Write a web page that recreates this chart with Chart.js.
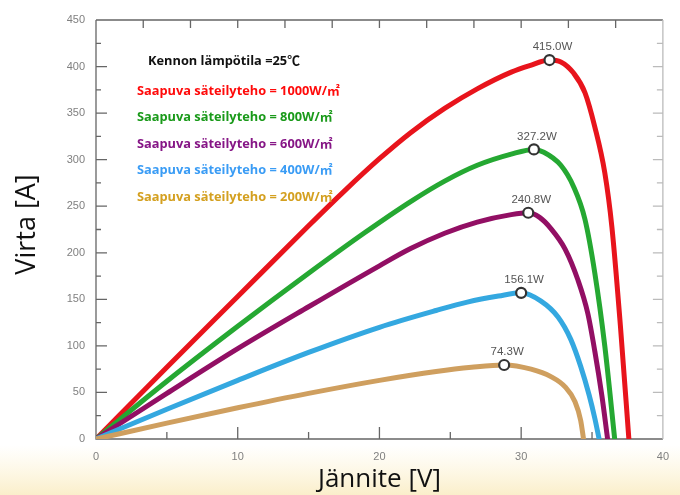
<!DOCTYPE html>
<html><head><meta charset="utf-8">
<script src="https://cdn.jsdelivr.net/npm/chart.js@4.4.1/dist/chart.umd.min.js"></script>
<style>html,body{margin:0;padding:0;background:#fff;}#wrap{width:680px;height:495px;position:relative;}</style>
</head><body><div id="wrap"><canvas id="c"></canvas></div>
<script>
// ---- data ----
const headerText = 'Kennon lämpötila =25℃';
const seriesNames = ['Saapuva säteilyteho = 1000W/㎡','Saapuva säteilyteho = 800W/㎡','Saapuva säteilyteho = 600W/㎡','Saapuva säteilyteho = 400W/㎡','Saapuva säteilyteho = 200W/㎡'];
const v1000 = [0,5,10,15,17.5,20,22.2,24.6,26.9,29.3,30.6,32.0,32.8,33.7,34.5,35.2,35.9,36.4,37.0,37.6];
const p1000 = [0,77,153,229,266,301,329,355,376,394,401,407,405,393,372,335,286,228,122,0];
const v800 = [0,5,10,15,19,22.2,24.6,26.9,29.3,30.9,31.6,32.8,33.7,34.5,35.2,35.9,36.6];
const p800 = [0,62,121,178,222,255,277,294,306,311,308,294,271,236,178,100,0];
const v600 = [0,5,10,15,20,22.2,24.6,26.9,29.3,30.5,31.3,32.1,33.1,34.0,34.7,35.2,35.7,36.1];
const p600 = [0,49,97,142,186,204.5,221,233,241,243,238,226,204,171,135,94,46,0];
const v400 = [0,5,10,15,20,24,26.2,28.4,30.0,31.4,32.6,33.5,34.2,34.8,35.2,35.5];
const p400 = [0,32,63,93,120,138,147,153.5,157,148,131,107,78,47,22,0];
const v200 = [0,5,10,15,20,24,26.5,28.8,30.7,32.1,33.1,33.8,34.2,34.4];
const p200 = [0,17,33.5,49,63,72.5,77,79.5,75,67,56,40,20,0];
const peakV = [32.0,30.9,30.5,30.0,28.8];
const peakP = [407,311,243,157,79.5];
const peakLabels = ['415.0W','327.2W','240.8W','156.1W','74.3W'];
const xTickValues = [0,10,20,30,40];
const yTickValues = [0,50,100,150,200,250,300,350,400,450];
const xTitle = 'Jännite [V]';
const yTitle = 'Virta [A]';

// ---- styles ----
const lineColors = ['#e8141c','#25a832','#920f64','#34a8e0','#cf9f5f'];
const textColors = ['#ff0a0a','#1a9a1a','#861686','#3a9cf5','#d4a020'];

const curves = [[v1000,p1000],[v800,p800],[v600,p600],[v400,p400],[v200,p200]];
const datasets = curves.map((c,i)=>({
  type:'line', label:seriesNames[i],
  data:c[0].map((v,k)=>({x:v,y:c[1][k]})),
  borderColor:lineColors[i], borderWidth:5, pointRadius:0,
  cubicInterpolationMode:'monotone', fill:false, borderCapStyle:'round', borderJoinStyle:'round',
  order:10-i
}));
peakV.forEach((v,i)=>datasets.push({
  type:'scatter', label:'peak'+i, data:[{x:v,y:peakP[i]}],
  pointRadius:5, pointBackgroundColor:'#ffffff', pointBorderColor:'#333333', pointBorderWidth:2.2,
  order:0
}));

const bgPlugin = {
  id:'bg',
  beforeDraw(chart){
    const {ctx,width,height} = chart;
    ctx.save();
    ctx.fillStyle='#ffffff'; ctx.fillRect(0,0,width,height);
    const g = ctx.createLinearGradient(0,height-50,0,height);
    g.addColorStop(0,'rgba(250,232,170,0)');
    g.addColorStop(1,'rgba(246,222,150,0.5)');
    ctx.fillStyle=g; ctx.fillRect(0,height-50,width,50);
    ctx.restore();
  }
};

const boxPlugin = {
  id:'box',
  beforeDatasetsDraw(chart){
    const {ctx, chartArea:a, scales:{x,y}} = chart;
    ctx.save();
    ctx.lineWidth=1.3;
    ctx.strokeStyle='#666';
    ctx.beginPath();
    ctx.moveTo(a.left,a.top); ctx.lineTo(a.left,a.bottom); ctx.lineTo(a.right,a.bottom);
    ctx.moveTo(a.left,a.top); ctx.lineTo(a.right,a.top);
    for(let v=25; v<y.max; v+=25){
      const py=y.getPixelForValue(v); const len=(v%50===0)?11:5;
      ctx.moveTo(a.left,py); ctx.lineTo(a.left+len,py);
    }
    for(let v=5; v<x.max; v+=5){
      const px=x.getPixelForValue(v); const len=(v%10===0)?12:7;
      ctx.moveTo(px,a.bottom); ctx.lineTo(px,a.bottom-len);
    }
    for(let k=1; k*10/3<x.max-0.1; k++){
      const px=x.getPixelForValue(k*10/3);
      ctx.moveTo(px,a.top); ctx.lineTo(px,a.top+8);
    }
    ctx.stroke();
    ctx.strokeStyle='#bbbbbb';
    ctx.beginPath();
    ctx.moveTo(a.right,a.top); ctx.lineTo(a.right,a.bottom);
    for(let v=25; v<y.max; v+=25){
      const py=y.getPixelForValue(v); const len=(v%50===0)?10:6;
      ctx.moveTo(a.right,py); ctx.lineTo(a.right-len,py);
    }
    ctx.stroke();
    ctx.restore();
  }
};

const textPlugin = {
  id:'texts',
  afterDatasetsDraw(chart){
    const {ctx, chartArea:a} = chart;
    ctx.save();
    ctx.font = "11.5px 'Liberation Sans', Arial, sans-serif";
    ctx.fillStyle='#555555'; ctx.textAlign='center'; ctx.textBaseline='middle';
    peakLabels.forEach((t,i)=>{
      const p = chart.getDatasetMeta(curves.length+i).data[0];
      ctx.fillText(t,p.x+3,p.y-13);
    });
    ctx.textAlign='left';
    ctx.font = "bold 12.8px 'Open Sans', 'Noto Sans CJK SC', sans-serif";
    ctx.fillStyle='#111111';
    ctx.fillText(headerText, a.left+52, a.top+41);
    seriesNames.forEach((t,i)=>{
      ctx.fillStyle=textColors[i];
      ctx.fillText(t, a.left+41, a.top+71+i*26.6);
    });
    ctx.font = "27px 'Open Sans', sans-serif";
    ctx.fillStyle='#111111'; ctx.textAlign='center'; ctx.textBaseline='middle';
    ctx.translate(27,(a.top+a.bottom)/2-5);
    ctx.rotate(-Math.PI/2);
    ctx.fillText(yTitle,0,0);
    ctx.restore();
  }
};

new Chart(document.getElementById('c'),{
  data:{datasets},
  options:{
    responsive:true, maintainAspectRatio:false, animation:false,
    layout:{padding:{top:20,right:14,left:0,bottom:0}},
    plugins:{legend:{display:false},tooltip:{enabled:false}},
    scales:{
      x:{type:'linear',min:0,max:40,
        afterBuildTicks(s){s.ticks=xTickValues.map(v=>({value:v}));},
        afterFit(s){s.height=56;},
        grid:{display:false,drawTicks:false}, border:{display:false},
        ticks:{padding:11,color:'#808080',font:{family:"'Liberation Sans', Arial, sans-serif",size:11}},
        title:{display:true,text:xTitle,color:'#111',padding:{top:0,bottom:0},font:{family:"'Open Sans', sans-serif",size:26}}
      },
      y:{type:'linear',min:0,max:450,
        afterBuildTicks(s){s.ticks=yTickValues.map(v=>({value:v}));},
        afterFit(s){s.width=96;},
        grid:{display:false,drawTicks:false}, border:{display:false},
        ticks:{padding:11,color:'#808080',font:{family:"'Liberation Sans', Arial, sans-serif",size:11}},
        title:{display:false}
      }
    }
  },
  plugins:[bgPlugin,boxPlugin,textPlugin]
});
</script></body></html>
